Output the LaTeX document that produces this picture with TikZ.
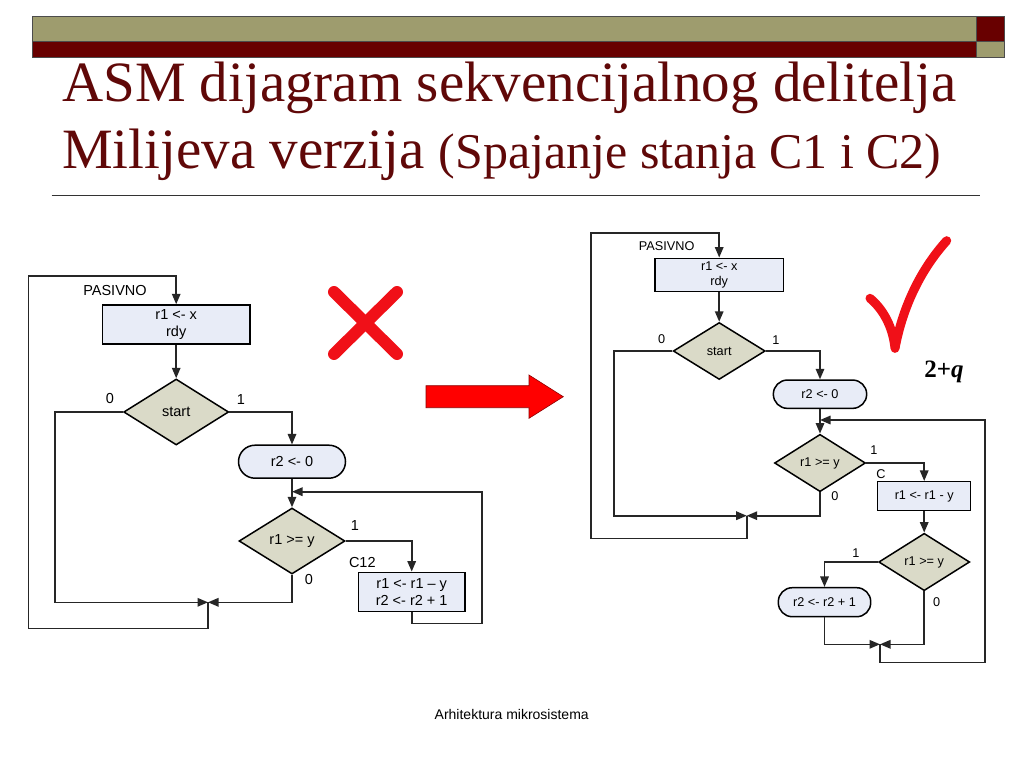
\documentclass[tikz,border=0pt]{standalone}
\usepackage{fontspec}
\setmainfont{Liberation Serif}
\newfontfamily\arial{Liberation Sans}
\usetikzlibrary{arrows.meta,shapes.geometric}

\definecolor{barolive}{RGB}{158,156,110}
\definecolor{barred}{RGB}{104,0,0}
\definecolor{titlered}{RGB}{96,8,8}
\definecolor{boxblue}{RGB}{232,236,247}
\definecolor{diagray}{RGB}{218,218,200}
\definecolor{markred}{RGB}{240,16,24}

\newcommand\lfont{\arial\fontsize{14.5}{16.7}\selectfont}
\newcommand\rfont{\arial\fontsize{12.7}{15}\selectfont}

\begin{document}
\begin{tikzpicture}[x=1pt,y=-1pt,
        arr/.style={-{Triangle[length=10.5pt,width=8.5pt]}},
        wire/.style={line width=1.6pt,draw=black!85},
        stbox/.style={draw,fill=boxblue,line width=1.5pt,inner sep=0pt,align=center},
        cond/.style={diamond,aspect=1.6,draw,fill=diagray,line width=1.5pt,inner sep=0pt},
        oval/.style={draw,fill=boxblue,line width=1.5pt,inner sep=0pt},
        lab/.style={inner sep=0pt}]
    \useasboundingbox[fill=white] (0,0) rectangle (1024,768);

    % header bars
    \filldraw[fill=barolive,draw=black!70,line width=0.6pt] (32,16.7) rectangle (976.7,41.7);
    \filldraw[fill=barred,draw=black!70,line width=0.6pt] (32,41.7) rectangle (976.7,57.7);
    \filldraw[fill=barred,draw=black!70,line width=0.6pt] (976.7,16.7) rectangle (1004.3,41.7);
    \filldraw[fill=barolive,draw=black!70,line width=0.6pt] (976.7,41.7) rectangle (1004.3,57.7);

    % title
    \node[lab,anchor=base west,text=titlered,font=\fontsize{57}{60}\selectfont] (title1) at (62,101.7)
        {ASM dijagram sekvencijalnog delitelja};
    \node[lab,anchor=base west,text=titlered] (title2) at (62,168.3)
        {\fontsize{57}{60}\selectfont Milijeva verzija \fontsize{50}{60}\selectfont(Spajanje stanja C1 i C2)};
    \draw[line width=1.5pt,black!80] (51.7,195.7) -- (980,195.7);

    % left diagram
    \node[stbox,minimum width=147.7pt,minimum height=39pt,font=\lfont] (pasL) at (176.2,324.5) {r1 <- x\\rdy};
    \node[cond,minimum width=105pt,minimum height=66pt,font=\lfont] (startL) at (176.2,412) {start};
    \node[oval,rounded corners=16.5pt,minimum width=107pt,minimum height=33pt,font=\lfont] (r20L) at (292,461.7) {r2 <- 0};
    \node[cond,minimum width=106pt,minimum height=66pt,font=\lfont] (cmpL) at (292,541) {r1 >= y};
    \node[stbox,minimum width=106.7pt,minimum height=39.4pt,font=\lfont] (c12L) at (411.7,592) {r1 <- r1 – y\\r2 <- r2 + 1};
    \coordinate (mL) at (208,602.3);
    \coordinate (joinL) at (292,491.7);

    \draw[wire,arr] (pasL) -- (startL);
    \draw[wire,arr] (startL.east) -| (r20L.north);
    \draw[wire,arr] (startL.west) -- (55,412) |- (mL);
    \draw[wire,arr] (r20L) -- (cmpL);
    \draw[wire,arr] (cmpL.east) -| (c12L.north);
    \draw[wire,arr] (cmpL.south) |- (mL);
    \draw[wire,arr] (c12L.south) -- ++(0,11) -| (481.7,491.7) -- (joinL);
    \draw[wire,arr] (mL) -- ++(0,26) -| (28.3,275.7) -| (pasL.north);

    \node[lab,font=\lfont] (pasLlab) at (115,290.7) {PASIVNO};
    \node[lab,font=\lfont] (s0L) at (110,398.3) {0};
    \node[lab,font=\lfont] (s1L) at (241,400) {1};
    \node[lab,font=\lfont] (c1L) at (355,526) {1};
    \node[lab,font=\lfont] (c0L) at (309,579.3) {0};
    \node[lab,font=\lfont] (c12lab) at (362.3,562.3) {C12};

    % right diagram
    \node[stbox,minimum width=128.3pt,minimum height=33.4pt,font=\rfont] (pasR) at (719.2,275) {r1 <- x\\rdy};
    \node[cond,minimum width=92pt,minimum height=57pt,font=\rfont] (startR) at (719.2,351) {start};
    \node[oval,rounded corners=14pt,minimum width=93.3pt,minimum height=28.3pt,font=\rfont] (r20R) at (820,394.2) {r2 <- 0};
    \node[cond,minimum width=91pt,minimum height=57.4pt,font=\rfont] (cmpR) at (820,463) {r1 >= y};
    \node[stbox,minimum width=93pt,minimum height=29pt,font=\rfont] (cR) at (924.2,496.2) {r1 <- r1 - y};
    \node[cond,minimum width=91pt,minimum height=57.4pt,font=\rfont] (cmp2R) at (924.2,562) {r1 >= y};
    \node[oval,rounded corners=14pt,minimum width=92.4pt,minimum height=29pt,font=\rfont] (incR) at (824.5,602.2) {r2 <- r2 + 1};
    \coordinate (mR) at (746.7,515.7);
    \coordinate (m2R) at (880,644.3);
    \coordinate (joinR) at (820,420);

    \draw[wire,arr] (pasR) -- (startR);
    \draw[wire,arr] (startR.east) -| (r20R.north);
    \draw[wire,arr] (startR.west) -- (614,351) |- (mR);
    \draw[wire,arr] (r20R) -- (cmpR);
    \draw[wire,arr] (cmpR.east) -| (cR.north);
    \draw[wire,arr] (cmpR.south) |- (mR);
    \draw[wire,arr] (cR) -- (cmp2R);
    \draw[wire,arr] (cmp2R.west) -| (incR.north);
    \draw[wire,arr] (cmp2R.south) |- (m2R);
    \draw[wire,arr] (incR.south) |- (m2R);
    \draw[wire,arr] (m2R) -- ++(0,18) -| (985,420) -- (joinR);
    \draw[wire,arr] (mR) -- ++(0,22.6) -| (591,232.7) -| (pasR.north);

    \node[lab,font=\rfont] (pasRlab) at (666.7,245.7) {PASIVNO};
    \node[lab,font=\rfont] (s0R) at (661.7,339) {0};
    \node[lab,font=\rfont] (s1R) at (776,340) {1};
    \node[lab,font=\rfont] (c1R) at (874,450) {1};
    \node[lab,font=\rfont] (c0R) at (835,496) {0};
    \node[lab,font=\rfont] (clab) at (881,474.3) {C};
    \node[lab,font=\rfont] (d1R) at (856,553.3) {1};
    \node[lab,font=\rfont] (d0R) at (936.7,601.7) {0};

    % marks
    \draw[markred,line width=12pt,line cap=round] (334,292) -- (397,354);
    \draw[markred,line width=12pt,line cap=round] (397,292) -- (334,354);
    \filldraw[fill=red,draw=red!55!black,line width=0.6pt] (426,385.7) -- (529,385.7) -- (529,375)
        -- (563.3,396.7) -- (529,418.3) -- (529,407.7) -- (426,407.7) -- cycle;
    \draw[markred,line width=9pt,line cap=round,line join=round] (870,298.3)
        .. controls (884,310) and (893,328) .. (895,348.3)
        .. controls (903,305) and (922,268) .. (946.7,240.7);
    \node[lab,font=\fontsize{25}{28}\selectfont\bfseries] (cost) at (944,372) {2+\textit{q}};

    % footer
    \node[lab,font=\arial\fontsize{14}{16}\selectfont] (foot) at (511.7,714.3) {Arhitektura mikrosistema};
\end{tikzpicture}
\end{document}
